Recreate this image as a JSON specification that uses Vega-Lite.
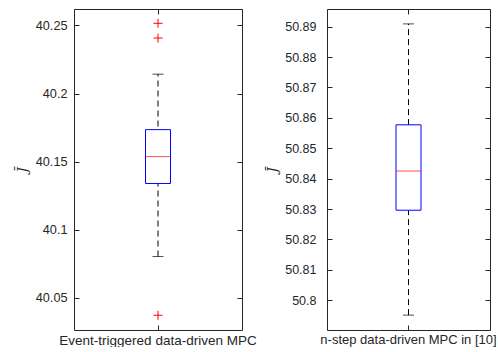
{
  "$schema": "https://vega.github.io/schema/vega-lite/v6.json",
  "padding": {"left": 15, "top": 8, "right": 0, "bottom": 0},
  "background": "white",
  "config": {
    "view": {"stroke": "#262626", "strokeWidth": 1},
    "font": "Liberation Sans",
    "axis": {"grid": false, "domain": false, "tickColor": "#262626", "labelColor": "#262626", "titleColor": "#262626", "labelFont": "Liberation Sans", "labelFontSize": 12.5, "tickSize": -5, "labelLimit": 0}
  },
  "datasets": {
    "boxL": [{"g": "Event-triggered data-driven MPC", "lo": 40.0804, "q1": 40.134, "med": 40.1537, "q3": 40.1735, "hi": 40.2142}],
    "outL": [{"g": "Event-triggered data-driven MPC", "v": 40.2515}, {"g": "Event-triggered data-driven MPC", "v": 40.2407}, {"g": "Event-triggered data-driven MPC", "v": 40.0373}],
    "boxR": [{"g": "n-step data-driven MPC in [10]", "lo": 50.7951, "q1": 50.8296, "med": 50.8425, "q3": 50.8577, "hi": 50.8909}]
  },
  "hconcat": [
    {
      "width": 168,
      "height": 321,
      "resolve": {"axis": {"x": "independent", "y": "independent"}},
      "layer": [
        {
          "data": {"name": "boxL"},
          "mark": {"type": "rule", "color": "#000000", "strokeDash": [6, 4], "strokeWidth": 1},
          "encoding": {
            "x": {"field": "g", "type": "nominal", "title": null, "axis": {"labelAngle": 0, "labelPadding": 8, "labelFontSize": 13.5, "labelLimit": 0}},
            "y": {"field": "lo", "type": "quantitative", "scale": {"domain": [40.0265, 40.262], "nice": false, "zero": false}, "title": "J̄", "axis": {"values": [40.05, 40.1, 40.15, 40.2, 40.25], "format": "~f", "labelPadding": 12, "labelFontSize": 12.7, "titleFont": "DejaVu Serif", "titleFontStyle": "italic", "titleFontWeight": "normal", "titleFontSize": 13, "titlePadding": 6}},
            "y2": {"field": "hi"}
          }
        },
        {
          "data": {"name": "boxL"},
          "mark": {"type": "tick", "color": "#000000", "size": 11, "thickness": 1},
          "encoding": {
            "x": {"field": "g", "type": "nominal", "axis": {"orient": "top", "labels": false, "title": null}},
            "y": {"field": "lo", "type": "quantitative", "axis": {"orient": "right", "labels": false, "title": null, "values": [40.05, 40.1, 40.15, 40.2, 40.25]}}
          }
        },
        {
          "data": {"name": "boxL"},
          "mark": {"type": "tick", "color": "#000000", "size": 11, "thickness": 1},
          "encoding": {
            "x": {"field": "g", "type": "nominal", "axis": null},
            "y": {"field": "hi", "type": "quantitative", "axis": null}
          }
        },
        {
          "data": {"name": "boxL"},
          "mark": {"type": "bar", "size": 25, "fill": "white", "stroke": "#0000ff", "strokeWidth": 1},
          "encoding": {
            "x": {"field": "g", "type": "nominal", "axis": null},
            "y": {"field": "q1", "type": "quantitative", "axis": null},
            "y2": {"field": "q3"}
          }
        },
        {
          "data": {"name": "boxL"},
          "mark": {"type": "tick", "color": "#ff0000", "size": 25, "thickness": 1},
          "encoding": {
            "x": {"field": "g", "type": "nominal", "axis": null},
            "y": {"field": "med", "type": "quantitative", "axis": null}
          }
        },
        {
          "data": {"name": "outL"},
          "mark": {"type": "point", "shape": "M-1,0L1,0M0,-1L0,1", "filled": false, "stroke": "#ff0000", "strokeWidth": 1, "size": 81, "opacity": 1},
          "encoding": {
            "x": {"field": "g", "type": "nominal", "axis": null},
            "y": {"field": "v", "type": "quantitative", "axis": null}
          }
        }
      ]
    },
    {
      "width": 163,
      "height": 321,
      "resolve": {"axis": {"x": "independent", "y": "independent"}},
      "layer": [
        {
          "data": {"name": "boxR"},
          "mark": {"type": "rule", "color": "#000000", "strokeDash": [6, 4], "strokeWidth": 1},
          "encoding": {
            "x": {"field": "g", "type": "nominal", "title": null, "axis": {"labelAngle": 0, "labelPadding": 8, "labelFontSize": 13, "labelLimit": 0}},
            "y": {"field": "lo", "type": "quantitative", "scale": {"domain": [50.7902, 50.8958], "nice": false, "zero": false}, "title": "J̄", "axis": {"values": [50.8, 50.81, 50.82, 50.83, 50.84, 50.85, 50.86, 50.87, 50.88, 50.89], "format": "~f", "labelPadding": 16, "labelFontSize": 12.5, "titleFont": "DejaVu Serif", "titleFontStyle": "italic", "titleFontWeight": "normal", "titleFontSize": 13, "titlePadding": 5}},
            "y2": {"field": "hi"}
          }
        },
        {
          "data": {"name": "boxR"},
          "mark": {"type": "tick", "color": "#000000", "size": 11, "thickness": 1},
          "encoding": {
            "x": {"field": "g", "type": "nominal", "axis": {"orient": "top", "labels": false, "title": null}},
            "y": {"field": "lo", "type": "quantitative", "axis": {"orient": "right", "labels": false, "title": null, "values": [50.8, 50.81, 50.82, 50.83, 50.84, 50.85, 50.86, 50.87, 50.88, 50.89]}}
          }
        },
        {
          "data": {"name": "boxR"},
          "mark": {"type": "tick", "color": "#000000", "size": 11, "thickness": 1},
          "encoding": {
            "x": {"field": "g", "type": "nominal", "axis": null},
            "y": {"field": "hi", "type": "quantitative", "axis": null}
          }
        },
        {
          "data": {"name": "boxR"},
          "mark": {"type": "bar", "size": 25, "fill": "white", "stroke": "#0000ff", "strokeWidth": 1},
          "encoding": {
            "x": {"field": "g", "type": "nominal", "axis": null},
            "y": {"field": "q1", "type": "quantitative", "axis": null},
            "y2": {"field": "q3"}
          }
        },
        {
          "data": {"name": "boxR"},
          "mark": {"type": "tick", "color": "#ff0000", "size": 25, "thickness": 1},
          "encoding": {
            "x": {"field": "g", "type": "nominal", "axis": null},
            "y": {"field": "med", "type": "quantitative", "axis": null}
          }
        }
      ]
    }
  ],
  "spacing": 85,
  "bounds": "flush"
}
